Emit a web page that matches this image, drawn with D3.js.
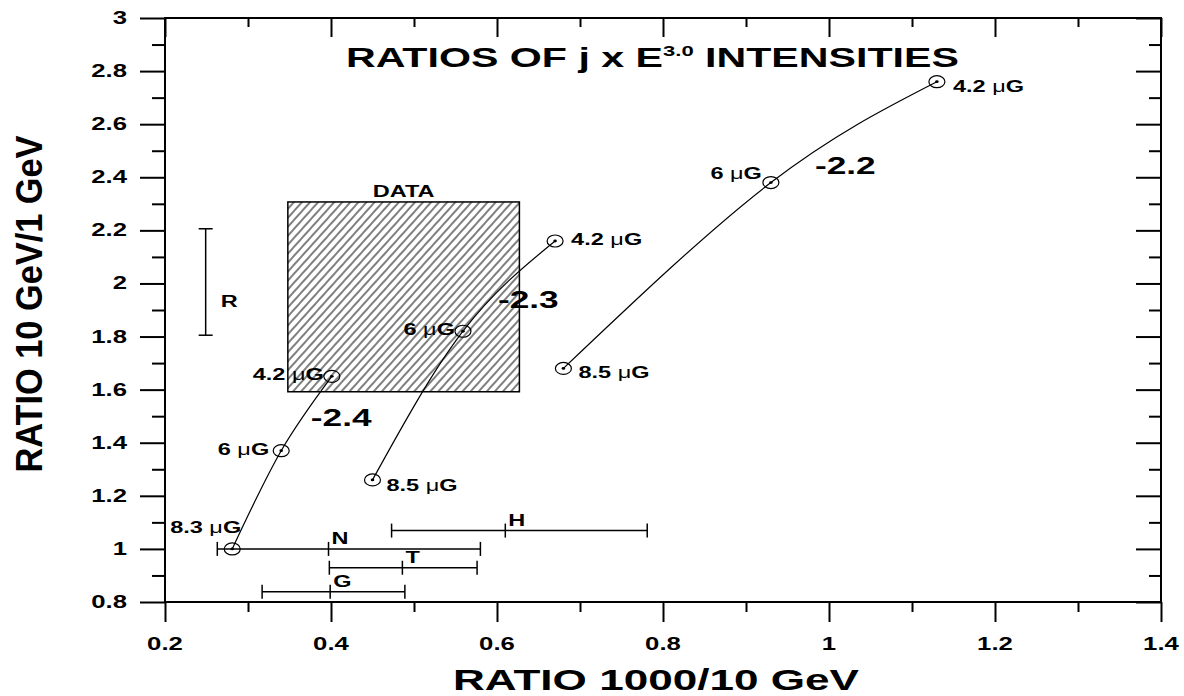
<!DOCTYPE html>
<html>
<head>
<meta charset="utf-8">
<script src="https://cdn.jsdelivr.net/npm/d3@7"></script>
<style>
body { margin: 0; background: #fff; }
text { font-family: "Liberation Sans", Arial, sans-serif; font-weight: bold; fill: #000; }
</style>
</head>
<body>
<svg id="drawing_region"></svg>
<script>
// model curves, one per spectral slope; points are field strengths
const slopes = ["-2.4", "-2.3", "-2.2"];
const curveX = [[0.281, 0.340, 0.401], [0.450, 0.559, 0.670], [0.680, 0.930, 1.130]];
const curveY = [[1.00, 1.37, 1.65], [1.26, 1.82, 2.16], [1.68, 2.38, 2.76]];
const fieldLabels = [["8.3", "6", "4.2"], ["8.5", "6", "4.2"], ["8.5", "6", "4.2"]];

// hatched data box
const dataX = [0.348, 0.627];
const dataY = [1.592, 2.307];

// horizontal ranges
const barNames = ["N", "T", "G", "H"];
const barY = [1.00, 0.929, 0.839, 1.069];
const barLo = [0.263, 0.398, 0.317, 0.473];
const barMid = [0.397, 0.486, 0.399, 0.610];
const barHi = [0.580, 0.576, 0.489, 0.781];

// vertical range R
const rX = 0.249;
const rLo = 1.805;
const rHi = 2.206;

const xTicks = [0.2, 0.4, 0.6, 0.8, 1, 1.2, 1.4];
const xMinor = [0.3, 0.5, 0.7, 0.9, 1.1, 1.3];
const yTicks = [0.8, 1, 1.2, 1.4, 1.6, 1.8, 2, 2.2, 2.4, 2.6, 2.8, 3];
const yMinor = [0.9, 1.1, 1.3, 1.5, 1.7, 1.9, 2.1, 2.3, 2.5, 2.7, 2.9];

// label placement around each point: dx, dy, anchor
const labelPlace = [
    [[9, -16, "end"], [-12, 4, "end"], [-8, 4, "end"]],
    [[14, 11, "start"], [-8, 4, "end"], [16, 4, "start"]],
    [[15, 10, "start"], [-9, -4, "end"], [16, 10, "start"]]
];
// slope label: point index, dx, dy
const slopePlace = [[2, -21, 50], [1, 35, -23], [1, 44, -9]];

const config = {
    width: 1184,
    height: 696,
    margin: {top: 18, right: 23, bottom: 94, left: 165}
};
const SX = 1.47; // text in the original is drawn wide

const svg = d3.select('#drawing_region')
    .attr('width', config.width)
    .attr('height', config.height);

const W = config.width - config.margin.left - config.margin.right;
const H = config.height - config.margin.top - config.margin.bottom;

const chart = svg.append('g')
    .attr('transform', `translate(${config.margin.left}, ${config.margin.top})`);

const x = d3.scaleLinear().domain([0.2, 1.4]).range([0, W]);
const y = d3.scaleLinear().domain([0.8, 3]).range([H, 0]);

function wideText(g, px, py, size, anchor) {
    return g.append('g')
        .attr('transform', `translate(${px}, ${py}) scale(${SX}, 1)`)
        .append('text')
        .attr('font-size', size)
        .attr('text-anchor', anchor);
}

// hatch pattern
svg.append('defs').append('pattern')
    .attr('id', 'hatch')
    .attr('patternUnits', 'userSpaceOnUse')
    .attr('width', 6).attr('height', 6)
    .attr('patternTransform', 'rotate(42)')
    .append('line')
    .attr('x1', 3).attr('y1', 0).attr('x2', 3).attr('y2', 6)
    .attr('stroke', '#000').attr('stroke-width', 1);

// axes: ticks only, frame drawn as a rect
function ticks(axis, vals, size, tr) {
    const g = chart.append('g')
        .attr('transform', tr || null)
        .call(axis.tickValues(vals).tickSize(size).tickSizeOuter(0).tickFormat(''));
    g.select('.domain').remove();
    g.selectAll('line').attr('stroke', '#000').attr('stroke-width', 2);
}
ticks(d3.axisBottom(x), xTicks, 20, `translate(0, ${H})`);
ticks(d3.axisBottom(x), xMinor, 10, `translate(0, ${H})`);
ticks(d3.axisTop(x), xTicks, -19);
ticks(d3.axisTop(x), xMinor, -9);
ticks(d3.axisLeft(y), yTicks, 25);
ticks(d3.axisLeft(y), yMinor, 13);
ticks(d3.axisRight(y), yTicks, -25, `translate(${W}, 0)`);
ticks(d3.axisRight(y), yMinor, -12, `translate(${W}, 0)`);

chart.append('rect')
    .attr('width', W).attr('height', H)
    .attr('fill', 'none').attr('stroke', '#000').attr('stroke-width', 2);

xTicks.forEach(v => {
    wideText(chart, x(v), H + 48, 17.5, 'middle').text(String(v));
});
yTicks.forEach(v => {
    wideText(chart, -38, y(v) + 6, 17.5, 'end').text(String(v));
});

// axis titles
chart.append('text')
    .attr('transform', `translate(${656 - config.margin.left}, ${690 - config.margin.top}) scale(${SX}, 1)`)
    .attr('font-size', 30)
    .attr('text-anchor', 'middle')
    .text('RATIO 1000/10 GeV');

chart.append('text')
    .attr('transform', `translate(${42 - config.margin.left}, ${304 - config.margin.top}) rotate(-90)`)
    .attr('font-size', 37)
    .attr('text-anchor', 'middle')
    .attr('textLength', 337)
    .attr('lengthAdjust', 'spacingAndGlyphs')
    .text('RATIO 10 GeV/1 GeV');

// title
const title = wideText(chart, 346 - config.margin.left, 67 - config.margin.top, 28, 'start');
title.append('tspan').text('RATIOS OF j x E');
title.append('tspan').attr('font-size', 15).attr('dy', -11).text('3.0');
title.append('tspan').attr('dy', 11).text(' INTENSITIES');

// data box
chart.append('rect')
    .attr('x', x(dataX[0])).attr('y', y(dataY[1]))
    .attr('width', x(dataX[1]) - x(dataX[0]))
    .attr('height', y(dataY[0]) - y(dataY[1]))
    .attr('fill', 'url(#hatch)')
    .attr('stroke', '#000').attr('stroke-width', 1.5);
wideText(chart, (x(dataX[0]) + x(dataX[1])) / 2, y(dataY[1]) - 5, 16, 'middle').text('DATA');

// R range
const rg = chart.append('g').attr('stroke', '#000').attr('stroke-width', 1.5);
rg.append('line').attr('x1', x(rX)).attr('x2', x(rX)).attr('y1', y(rLo)).attr('y2', y(rHi));
[rLo, rHi].forEach(v => {
    rg.append('line').attr('x1', x(rX) - 7).attr('x2', x(rX) + 7).attr('y1', y(v)).attr('y2', y(v));
});
wideText(chart, x(rX) + 15, y((rLo + rHi) / 2) + 25, 16, 'start').text('R');

// horizontal ranges
barNames.forEach((name, i) => {
    const g = chart.append('g').attr('stroke', '#000').attr('stroke-width', 1.5);
    g.append('line').attr('x1', x(barLo[i])).attr('x2', x(barHi[i]))
        .attr('y1', y(barY[i])).attr('y2', y(barY[i]));
    [barLo[i], barMid[i], barHi[i]].forEach(v => {
        g.append('line').attr('x1', x(v)).attr('x2', x(v))
            .attr('y1', y(barY[i]) - 7).attr('y2', y(barY[i]) + 7);
    });
    wideText(chart, x(barMid[i]) + 3, y(barY[i]) - 5, 16, 'start').text(name);
});

// curves
const line = d3.line()
    .x(d => x(d[0]))
    .y(d => y(d[1]))
    .curve(d3.curveNatural);

slopes.forEach((s, c) => {
    const pts = curveX[c].map((v, i) => [v, curveY[c][i]]);
    chart.append('path')
        .attr('d', line(pts))
        .attr('fill', 'none')
        .attr('stroke', '#000')
        .attr('stroke-width', 1.2);

    pts.forEach((p, i) => {
        chart.append('ellipse')
            .attr('cx', x(p[0])).attr('cy', y(p[1]))
            .attr('rx', 8).attr('ry', 6)
            .attr('fill', 'none').attr('stroke', '#000').attr('stroke-width', 1.2);
        chart.append('ellipse')
            .attr('cx', x(p[0])).attr('cy', y(p[1]))
            .attr('rx', 1.8).attr('ry', 1.4)
            .attr('fill', '#000');
        const lp = labelPlace[c][i];
        const t = wideText(chart, x(p[0]) + lp[0], y(p[1]) + lp[1], 16, lp[2]);
        t.append('tspan').text(fieldLabels[c][i] + ' ');
        t.append('tspan').attr('font-weight', 'normal').text('\u03bc');
        t.append('tspan').text('G');
    });

    const sp = slopePlace[c];
    wideText(chart, x(pts[sp[0]][0]) + sp[1], y(pts[sp[0]][1]) + sp[2], 24, 'start').text(s);
});
</script>
</body>
</html>
